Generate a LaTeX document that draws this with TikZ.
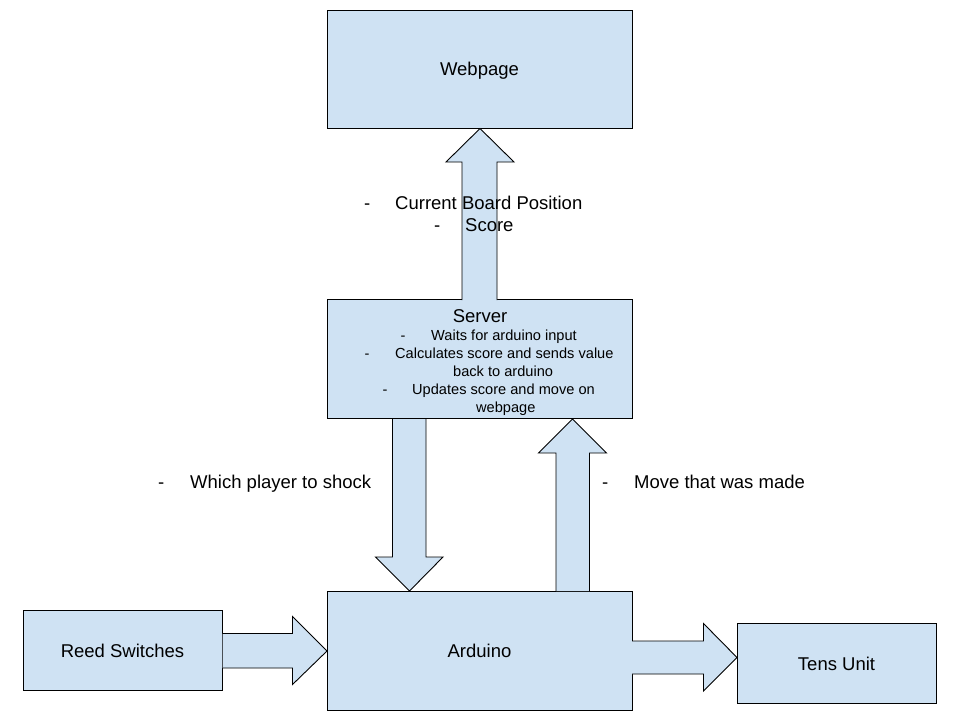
\documentclass[tikz,border=0pt]{standalone}
\usepackage{fontspec}
\setmainfont{Liberation Sans}
\definecolor{boxblue}{HTML}{CFE2F3}
\begin{document}
\begin{tikzpicture}[x=1pt,y=-1pt,
  box/.style={draw=black,line width=0.9pt,fill=boxblue,inner sep=0pt,
    font=\fontsize{18.5}{22}\selectfont,text height=13pt,text depth=0pt},
  blockarrow/.style={draw=black,line width=0.9pt,fill=boxblue,line join=miter},
  big/.style={font=\fontsize{18.5}{22}\selectfont,inner sep=0pt,anchor=base west},
  small/.style={font=\fontsize{14.6}{18}\selectfont,inner sep=0pt,anchor=base west}]
\useasboundingbox (0,0) rectangle (960,720);
\fill[white] (0,0) rectangle (960,720);
% blocks
\node[box,minimum width=305pt,minimum height=118pt] (web) at (479.5,69) {Webpage};
\node[box,minimum width=305pt,minimum height=119pt] (server) at (479.5,359) {};
\node[box,minimum width=305pt,minimum height=119pt] (ard) at (479.5,650.5) {Arduino};
\node[box,minimum width=199pt,minimum height=80pt] (reed) at (122.5,650.5) {Reed Switches};
\node[box,minimum width=199pt,minimum height=80pt] (tens) at (836.5,663.5) {Tens Unit};
% block arrows
\draw[blockarrow] (462,300) -- (462,162) -- (446,162) -- (480,128.5) -- (514,162) -- (497,162) -- (497,300);
\draw[blockarrow] (392.5,419) -- (392.5,557) -- (375.5,557) -- (409.5,591) -- (443,557) -- (426,557) -- (426,419);
\draw[blockarrow] (556,591) -- (556,453) -- (538.5,453) -- (572.5,419) -- (606.5,453) -- (589.5,453) -- (589.5,591);
\draw[blockarrow] (222.5,633.5) -- (292.5,633.5) -- (292.5,616.5) -- (327,651) -- (292.5,684.5) -- (292.5,668) -- (222.5,668);
\draw[blockarrow] (632,641) -- (703.5,641) -- (703.5,623.5) -- (737,657.5) -- (703.5,691) -- (703.5,674) -- (632,674);
% server text
\node[font=\fontsize{18.5}{22}\selectfont,inner sep=0pt,anchor=base] (srvtitle) at (480,322.5) {Server};
\node[small] (s1d) at (400.5,340.5) {-};
\node[small] (s1) at (431,340.5) {Waits for arduino input};
\node[small] (s2d) at (364.5,358.5) {-};
\node[small] (s2) at (395,358.5) {Calculates score and sends value};
\node[small] (s2b) at (453,376.5) {back to arduino};
\node[small] (s3d) at (382.5,394.5) {-};
\node[small] (s3) at (412,394.5) {Updates score and move on};
\node[small] (s3b) at (476,412.5) {webpage};
% connector labels
\node[big] (l1d) at (364,209.5) {-};
\node[big] (l1) at (395,209.5) {Current Board Position};
\node[big] (l2d) at (434,231.5) {-};
\node[big] (l2) at (465,231.5) {Score};
\node[big] (l3d) at (158,488.5) {-};
\node[big] (l3) at (190,488.5) {Which player to shock};
\node[big] (l4d) at (602,488.5) {-};
\node[big] (l4) at (634,488.5) {Move that was made};
\end{tikzpicture}
\end{document}
